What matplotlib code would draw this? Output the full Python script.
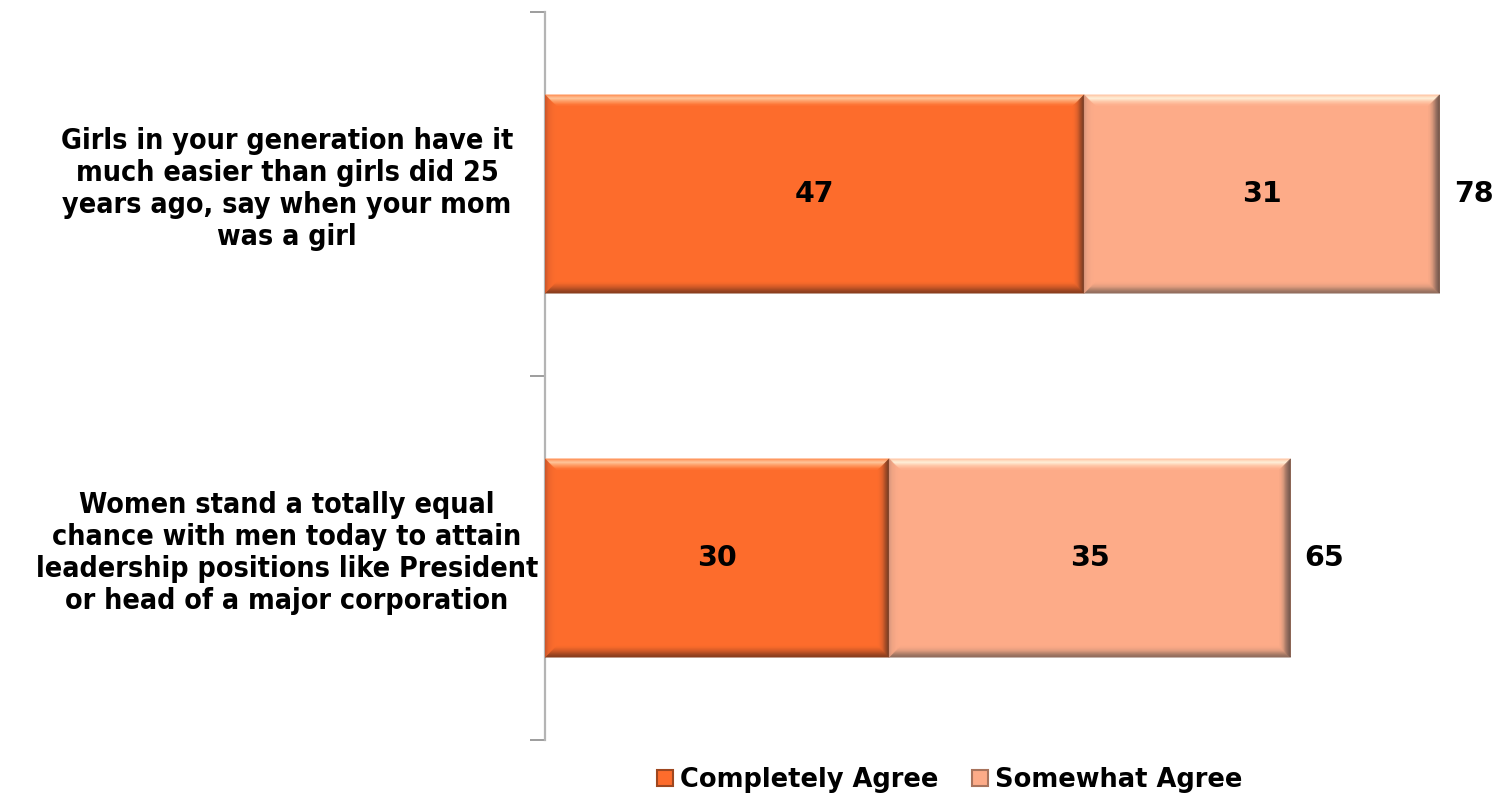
import matplotlib
matplotlib.use("Agg")
import numpy as np
import matplotlib.pyplot as plt
from matplotlib.patches import Polygon, Patch
from matplotlib.colors import to_rgb

categories = [
    "Girls in your generation have it\nmuch easier than girls did 25\nyears ago, say when your mom\nwas a girl",
    "Women stand a totally equal\nchance with men today to attain\nleadership positions like President\nor head of a major corporation",
]
completely_agree = [47, 30]
somewhat_agree = [31, 35]
totals = [78, 65]
series_names = ["Completely Agree", "Somewhat Agree"]

face_colors = ["#FD6C2C", "#FDAB88"]
# colour stops (outer edge -> inner edge) for the bevel on each side
bevel_stops = [
    {
        "top": ["#FF8C50", "#FFC89E", "#FF9A60", "#FD6C2C"],
        "bottom": ["#7E3A1C", "#A84A22", "#D65C28", "#FD6C2C"],
        "left": ["#C8552A", "#E8632C", "#F86A2C", "#FD6C2C"],
        "right": ["#6E3A22", "#A04A26", "#E0622C", "#FD6C2C"],
    },
    {
        "top": ["#FFC2A2", "#FFF2DA", "#FFC8A8", "#FDAB88"],
        "bottom": ["#86665A", "#B0806A", "#E49E80", "#FDAB88"],
        "left": ["#D8967C", "#F0A484", "#FAAA88", "#FDAB88"],
        "right": ["#5E4A42", "#8E6A5C", "#D8987C", "#FDAB88"],
    },
]

plt.rcParams["font.family"] = "DejaVu Sans"

W, H, DPI = 1495, 797, 100
fig = plt.figure(figsize=(W / DPI, H / DPI), dpi=DPI)
ax = fig.add_axes([545 / W, 57 / H, 917.6 / W, 728 / H])

ypos = list(range(len(categories)))
bar_h = 0.545
left_bars = ax.barh(ypos, completely_agree, height=bar_h, color=face_colors[0], linewidth=0)
right_bars = ax.barh(ypos, somewhat_agree, left=completely_agree, height=bar_h,
                     color=face_colors[1], linewidth=0)

ax.set_xlim(0, 80)
ax.set_ylim(len(categories) - 0.5, -0.5)

# pixel size of one data unit, for a bevel of fixed pixel width
p0 = ax.transData.transform((0, 0))
p1 = ax.transData.transform((1, 1))
ux = abs(p1[0] - p0[0])
uy = abs(p1[1] - p0[1])
BEVEL_PX = 11
bx, by = BEVEL_PX / ux, BEVEL_PX / uy


def ramp(stops, t):
    cols = np.array([to_rgb(c) for c in stops])
    pos = np.linspace(0, 1, len(cols))
    return tuple(np.interp(t, pos, cols[:, k]) for k in range(3))


def bevel(patch, stops, n=10):
    x0, y0 = patch.get_x(), patch.get_y()
    x1, y1 = x0 + patch.get_width(), y0 + patch.get_height()
    # y axis is inverted: y0 is the upper edge on screen
    for i in range(n):
        a, b = i / n, (i + 1) / n
        t = (i + 0.5) / n
        ax0, ay0, ax1, ay1 = x0 + a * bx, y0 + a * by, x1 - a * bx, y1 - a * by
        bx0, by0, bx1, by1 = x0 + b * bx, y0 + b * by, x1 - b * bx, y1 - b * by
        sides = {
            "top": [(ax0, ay0), (ax1, ay0), (bx1, by0), (bx0, by0)],
            "bottom": [(ax0, ay1), (bx0, by1), (bx1, by1), (ax1, ay1)],
            "left": [(ax0, ay0), (bx0, by0), (bx0, by1), (ax0, ay1)],
            "right": [(ax1, ay0), (ax1, ay1), (bx1, by1), (bx1, by0)],
        }
        for side, pts in sides.items():
            c = ramp(stops[side], t)
            ax.add_patch(Polygon(pts, closed=True, facecolor=c, edgecolor=c,
                                 lw=0.3, zorder=3))


for p in left_bars.patches:
    bevel(p, bevel_stops[0])
for p in right_bars.patches:
    bevel(p, bevel_stops[1])

# value labels
val_kw = dict(fontsize=20.5, fontweight="bold", color="black", zorder=5)
for i in ypos:
    ax.text(completely_agree[i] / 2, i, str(completely_agree[i]), ha="center",
            va="center", **val_kw)
    ax.text(completely_agree[i] + somewhat_agree[i] / 2, i, str(somewhat_agree[i]),
            ha="center", va="center", **val_kw)
    ax.text(totals[i] + 14 / ux, i, str(totals[i]), ha="left", va="center",
            clip_on=False, **val_kw)

# category labels, centred in the left margin
for i, lab in enumerate(categories):
    ax.text(-(545 - 287) / ux, i - 5 / uy, lab, ha="center", va="center", fontsize=20.5,
            fontweight="bold", linespacing=1.17, color="black", clip_on=False,
            fontstretch="condensed")

# axes styling
for s in ["top", "right", "bottom"]:
    ax.spines[s].set_visible(False)
ax.spines["left"].set_color("#B4B4B4")
ax.spines["left"].set_linewidth(1.6)
ax.set_xticks([])
ax.set_yticks([-0.5, 0.5, 1.5])
ax.set_yticklabels([])
ax.tick_params(axis="y", length=11, width=1.2, color="#8C8C8C", direction="out")

# legend
handles = [Patch(facecolor=face_colors[0], edgecolor="#9E4720", lw=1.5),
           Patch(facecolor=face_colors[1], edgecolor="#A8735C", lw=1.5)]
fig.legend(handles, series_names, loc="center", bbox_to_anchor=(950 / W, 1 - 780 / H),
           ncol=2, frameon=False, handlelength=0.6, handleheight=0.6, handletextpad=0.3,
           columnspacing=1.3, borderpad=0.1,
           prop={"weight": "bold", "size": 18.5})

fig.savefig("out.png", dpi=DPI, facecolor="white")
